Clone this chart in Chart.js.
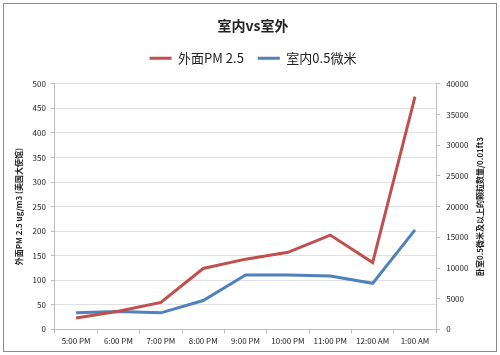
<!DOCTYPE html>
<html>
<head>
<meta charset="utf-8">
<script src="https://cdn.jsdelivr.net/npm/chart.js@4/dist/chart.umd.min.js"></script>
<style>
  html, body { margin: 0; padding: 0; background: #fff; }
  canvas { display: block; }
</style>
</head>
<body>
<canvas id="myChart" width="500" height="355"></canvas>
<script>
// chart data
const times = ['5:00 PM', '6:00 PM', '7:00 PM', '8:00 PM', '9:00 PM', '10:00 PM', '11:00 PM', '12:00 AM', '1:00 AM'];
const outdoorPM25 = [23, 37, 55, 124, 143, 157, 192, 136, 474];
const indoorParticles = [2700, 2900, 2700, 4700, 8850, 8850, 8700, 7500, 16200];
const leftTicks = [0, 50, 100, 150, 200, 250, 300, 350, 400, 450, 500];
const rightTicks = [0, 5000, 10000, 15000, 20000, 25000, 30000, 35000, 40000];

const cjk = '"Noto Sans CJK SC", "Noto Sans", sans-serif';
const rightTitle = '卧室0.5微米及以上的颗粒数量/0.01ft3';

// frame round the whole chart, and the right axis title read bottom-to-top
const framePlugin = {
    id: 'frame',
    beforeInit(chart) {
        // some extra room under the legend
        const legend = chart.legend;
        const fit = legend.fit;
        legend.fit = function () {
            fit.call(this);
            this.height += 9;
        };
    },
    beforeDraw(chart) {
        const c = chart.ctx;
        c.save();
        c.fillStyle = '#fff';
        c.fillRect(0, 0, chart.width, chart.height);
        c.strokeStyle = '#8c8c8c';
        c.lineWidth = 1;
        c.strokeRect(3.5, 3.5, chart.width - 7, chart.height - 7);
        c.restore();
    },
    afterDraw(chart) {
        const y1 = chart.scales.y1;
        const c = chart.ctx;
        c.save();
        c.translate(y1.right - 12, (y1.top + y1.bottom) / 2);
        c.rotate(-Math.PI / 2);
        c.font = 'bold 8px ' + cjk;
        c.fillStyle = '#222';
        c.textAlign = 'center';
        c.textBaseline = 'middle';
        c.fillText(rightTitle, 0, 0);
        c.restore();
    }
};

const ctx = document.getElementById('myChart').getContext('2d');

const myChart = new Chart(ctx, {
    type: 'line',
    data: {
        labels: times,
        datasets: [{
            label: '外面PM 2.5',
            data: outdoorPM25,
            borderColor: '#C0504D',
            backgroundColor: '#C0504D',
            borderWidth: 3,
            pointRadius: 0,
            tension: 0,
            yAxisID: 'y'
        }, {
            label: '室内0.5微米',
            data: indoorParticles,
            borderColor: '#4F81BD',
            backgroundColor: '#4F81BD',
            borderWidth: 3,
            pointRadius: 0,
            tension: 0,
            yAxisID: 'y1'
        }]
    },
    options: {
        responsive: false,
        animation: false,
        layout: { padding: { top: 17, left: 14, right: 8, bottom: 6 } },
        plugins: {
            title: {
                display: true,
                text: '室内vs室外',
                color: '#222',
                font: { family: cjk, size: 14, weight: 'bold' },
                padding: { top: 0, bottom: 4 }
            },
            legend: {
                display: true,
                labels: {
                    usePointStyle: true,
                    pointStyle: 'line',
                    pointStyleWidth: 22,
                    color: '#222',
                    font: { family: cjk, size: 13 },
                    padding: 14
                }
            },
            tooltip: { enabled: false }
        },
        scales: {
            x: {
                offset: true,
                grid: {
                    display: true,
                    offset: true,
                    drawOnChartArea: false,
                    tickLength: 4,
                    color: '#bfbfbf'
                },
                border: { color: '#bfbfbf' },
                ticks: {
                    color: '#222',
                    font: { family: cjk, size: 8 },
                    maxRotation: 0,
                    autoSkip: false,
                    padding: 3
                }
            },
            y: {
                position: 'left',
                min: 0,
                max: 500,
                afterBuildTicks(scale) {
                    scale.ticks = leftTicks.map(v => ({ value: v }));
                },
                grid: { color: '#e0e0e0', tickLength: 4, tickColor: '#bfbfbf' },
                border: { color: '#bfbfbf' },
                ticks: {
                    color: '#222',
                    font: { family: cjk, size: 8 },
                    padding: 5
                },
                title: {
                    display: true,
                    text: '外面PM 2.5 ug/m3 (美国大使馆)',
                    color: '#222',
                    font: { family: cjk, size: 8, weight: 'bold' },
                    padding: { top: 0, bottom: 4 }
                }
            },
            y1: {
                position: 'right',
                min: 0,
                max: 40000,
                afterBuildTicks(scale) {
                    scale.ticks = rightTicks.map(v => ({ value: v }));
                },
                grid: { drawOnChartArea: false, tickLength: 4, tickColor: '#bfbfbf' },
                border: { color: '#bfbfbf' },
                ticks: {
                    color: '#222',
                    font: { family: cjk, size: 8 },
                    padding: 6,
                    callback: v => String(v)
                },
                title: {
                    display: true,
                    text: rightTitle,
                    color: 'rgba(0,0,0,0)',
                    font: { family: cjk, size: 8, weight: 'bold' },
                    padding: { top: 8, bottom: 0 }
                }
            }
        }
    },
    plugins: [framePlugin]
});
</script>
</body>
</html>
